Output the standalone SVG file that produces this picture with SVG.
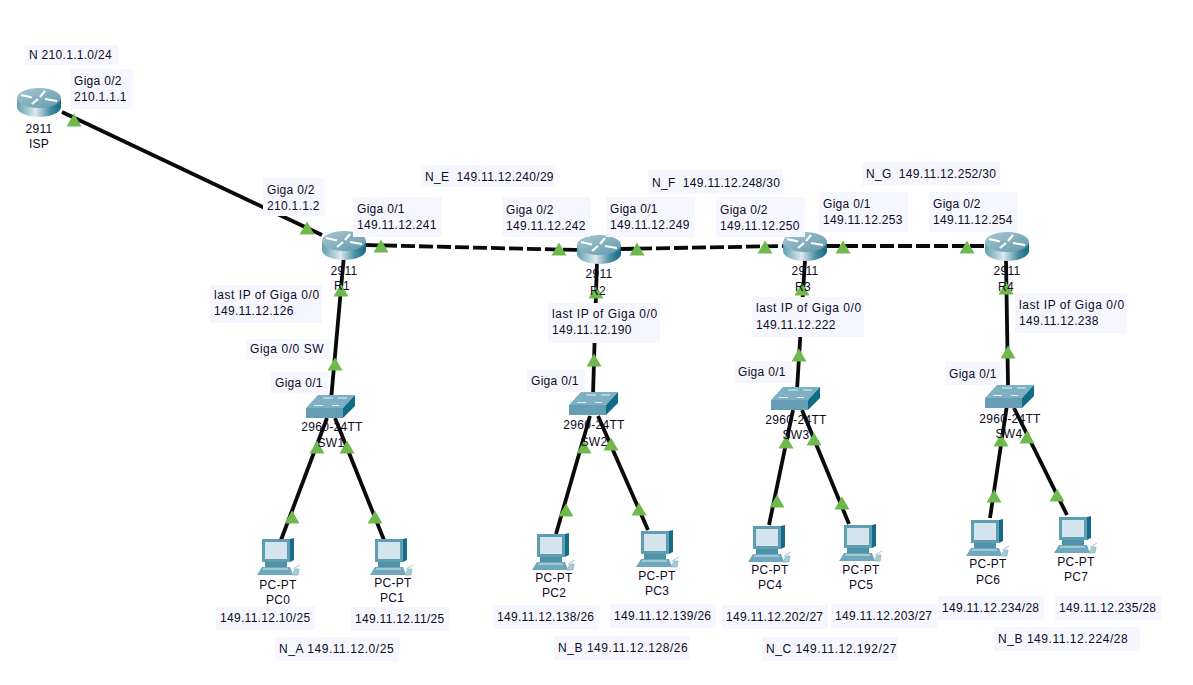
<svg xmlns="http://www.w3.org/2000/svg" xmlns:xlink="http://www.w3.org/1999/xlink" width="1193" height="685" viewBox="0 0 1193 685">
<style>
text{font-family:"Liberation Sans",Arial,sans-serif;font-size:12px;letter-spacing:.3px;fill:#0c0a1e;white-space:pre}
.w{letter-spacing:.55px}
.c{text-anchor:middle}
.b{fill:#f6f7fe}
.l{stroke:#0a0a0a;stroke-width:3.800;fill:none}
.d{stroke-dasharray:14 4}
.t{fill:#6fb84b}
</style>
<defs>
<linearGradient id="rb" x1="0" x2="1" y1="0" y2="0"><stop offset="0" stop-color="#5f9fb0"/><stop offset=".42" stop-color="#dbe9ee"/><stop offset=".75" stop-color="#4a8ea3"/><stop offset="1" stop-color="#136a82"/></linearGradient>
<linearGradient id="rt" x1="0" x2="1" y1="0" y2="1"><stop offset="0" stop-color="#a6c7d2"/><stop offset="1" stop-color="#6299ab"/></linearGradient>
<g id="router">
<path d="M0 10V19A22 10 0 0 0 44 19V10Z" fill="url(#rb)"/>
<ellipse cx="22" cy="10" rx="22" ry="10" fill="url(#rt)"/>
<path d="M4 7L15 9.500M15 16L21 11M28 3L23 9M28 11L40 13" stroke="#fff" stroke-width="2.200" fill="none"/>
</g>
<g id="switch">
<path d="M0 13L12 0H49L37 13Z" fill="#7db0c3"/>
<path d="M0 13H37V23H0Z" fill="#659eb4"/>
<path d="M37 13L49 0V11L37 23Z" fill="#0f6b86"/>
<path d="M8 10.500H17M26 10.500H33M17 3H27M32 3H41" stroke="#e6f1f5" stroke-width="1.200"/>
</g>
<g id="pc">
<path d="M5 1H33V24H5Z" fill="#5f9db2"/>
<path d="M33 1L37 0V22L33 24Z" fill="#146c88"/>
<path d="M8 4H30V21H8Z" fill="#d4e4ec"/>
<path d="M8 24H30V29H8Z" fill="#4f91a7"/>
<path d="M5 29H33L36 37H0Z" fill="#6fa8bc"/>
<path d="M6 31H31" stroke="#d4e4ec"/>
<path d="M36 31L43 27M35 37L38 31H42L41 37Z" fill="#a9c9d6" stroke="#8fb6c6" stroke-width=".8"/>
</g>
<path id="tri" d="M-7.500 6.500L0 -6.500L7.500 6.500Z"/>
</defs>
<rect width="1193" height="685" fill="#fff"/>

<g id="connectors">
<path class="l" d="M62 112L322 235"/>
<path class="l d" d="M365 245L578 250"/>
<path class="l d" d="M620 249L785 246"/>
<path class="l d" d="M826 246L985 246"/>
<path class="l" d="M344 255L331 400M597 260L593 395M805 260L797 390M1006 260L1008 385"/>
<path class="l" d="M327 418L281 540M335 418L384 540M590 416L556 534M598 416L648 530M793 410L769 525M802 410L849 524M1007 405L990 518M1014 408L1067 515"/>
</g>

<g id="links">
<use xlink:href="#tri" href="#tri" class="t" x="74" y="120"/>
<use xlink:href="#tri" href="#tri" class="t" x="307" y="228"/>
<use xlink:href="#tri" href="#tri" class="t" x="381" y="246"/>
<use xlink:href="#tri" href="#tri" class="t" x="341" y="290"/>
<use xlink:href="#tri" href="#tri" class="t" x="335" y="364"/>
<use xlink:href="#tri" href="#tri" class="t" x="317" y="447"/>
<use xlink:href="#tri" href="#tri" class="t" x="347" y="447"/>
<use xlink:href="#tri" href="#tri" class="t" x="292" y="517"/>
<use xlink:href="#tri" href="#tri" class="t" x="375" y="517"/>
<use xlink:href="#tri" href="#tri" class="t" x="559" y="249"/>
<use xlink:href="#tri" href="#tri" class="t" x="637" y="249"/>
<use xlink:href="#tri" href="#tri" class="t" x="596" y="292"/>
<use xlink:href="#tri" href="#tri" class="t" x="594" y="360"/>
<use xlink:href="#tri" href="#tri" class="t" x="584" y="447"/>
<use xlink:href="#tri" href="#tri" class="t" x="611" y="444"/>
<use xlink:href="#tri" href="#tri" class="t" x="566" y="510"/>
<use xlink:href="#tri" href="#tri" class="t" x="639" y="509"/>
<use xlink:href="#tri" href="#tri" class="t" x="765" y="247"/>
<use xlink:href="#tri" href="#tri" class="t" x="843" y="247"/>
<use xlink:href="#tri" href="#tri" class="t" x="802" y="289"/>
<use xlink:href="#tri" href="#tri" class="t" x="799" y="355"/>
<use xlink:href="#tri" href="#tri" class="t" x="786" y="442"/>
<use xlink:href="#tri" href="#tri" class="t" x="814" y="439"/>
<use xlink:href="#tri" href="#tri" class="t" x="777" y="501"/>
<use xlink:href="#tri" href="#tri" class="t" x="842" y="503"/>
<use xlink:href="#tri" href="#tri" class="t" x="967" y="247"/>
<use xlink:href="#tri" href="#tri" class="t" x="1006" y="288"/>
<use xlink:href="#tri" href="#tri" class="t" x="1008" y="352"/>
<use xlink:href="#tri" href="#tri" class="t" x="1001" y="440"/>
<use xlink:href="#tri" href="#tri" class="t" x="1027" y="437"/>
<use xlink:href="#tri" href="#tri" class="t" x="994" y="496"/>
<use xlink:href="#tri" href="#tri" class="t" x="1057" y="495"/>
</g>

<g id="ISP"><use xlink:href="#router" href="#router" x="17" y="88"/><text class="c" x="39" y="133">2911</text><text class="c" x="39" y="148">ISP</text></g>
<g id="R1"><use xlink:href="#router" href="#router" x="322" y="231"/><text class="c" x="344" y="275">2911</text><text class="c" x="342" y="290">R1</text></g>
<g id="R2"><use xlink:href="#router" href="#router" x="577" y="235"/><text class="c" x="599" y="278">2911</text><text class="c" x="598" y="295">R2</text></g>
<g id="R3"><use xlink:href="#router" href="#router" x="783" y="232"/><text class="c" x="805" y="275">2911</text><text class="c" x="803" y="291">R3</text></g>
<g id="R4"><use xlink:href="#router" href="#router" x="985" y="232"/><text class="c" x="1007" y="275">2911</text><text class="c" x="1006" y="291">R4</text></g>
<g id="SW1"><use xlink:href="#switch" href="#switch" x="306" y="395"/><text class="c" x="332" y="431">2960-24TT</text><text class="c" x="331" y="447">SW1</text></g>
<g id="SW2"><use xlink:href="#switch" href="#switch" x="569" y="392"/><text class="c" x="594" y="429">2960-24TT</text><text class="c" x="594" y="446">SW2</text></g>
<g id="SW3"><use xlink:href="#switch" href="#switch" x="771" y="387"/><text class="c" x="796" y="424">2960-24TT</text><text class="c" x="796" y="439">SW3</text></g>
<g id="SW4"><use xlink:href="#switch" href="#switch" x="985" y="385"/><text class="c" x="1010" y="423">2960-24TT</text><text class="c" x="1009" y="438">SW4</text></g>
<g id="PC0"><use xlink:href="#pc" href="#pc" x="257" y="538"/><text class="c" x="278" y="589">PC-PT</text><text class="c" x="278" y="604">PC0</text></g>
<g id="PC1"><use xlink:href="#pc" href="#pc" x="370" y="538"/><text class="c" x="393" y="587">PC-PT</text><text class="c" x="392" y="602">PC1</text></g>
<g id="PC2"><use xlink:href="#pc" href="#pc" x="532" y="533"/><text class="c" x="554" y="582">PC-PT</text><text class="c" x="554" y="597">PC2</text></g>
<g id="PC3"><use xlink:href="#pc" href="#pc" x="636" y="530"/><text class="c" x="657" y="580">PC-PT</text><text class="c" x="657" y="595">PC3</text></g>
<g id="PC4"><use xlink:href="#pc" href="#pc" x="748" y="525"/><text class="c" x="770" y="574">PC-PT</text><text class="c" x="770" y="589">PC4</text></g>
<g id="PC5"><use xlink:href="#pc" href="#pc" x="839" y="524"/><text class="c" x="861" y="574">PC-PT</text><text class="c" x="861" y="589">PC5</text></g>
<g id="PC6"><use xlink:href="#pc" href="#pc" x="966" y="519"/><text class="c" x="988" y="568">PC-PT</text><text class="c" x="988" y="584">PC6</text></g>
<g id="PC7"><use xlink:href="#pc" href="#pc" x="1054" y="516"/><text class="c" x="1076" y="566">PC-PT</text><text class="c" x="1076" y="581">PC7</text></g>

<g id="labels">
<rect class="b" x="25" y="45" width="93" height="20"/><text x="29" y="59">N 210.1.1.0/24</text>
<rect class="b" x="70" y="69" width="63" height="40"/><text x="74" y="85">Giga 0/2</text><text x="74" y="101">210.1.1.1</text>
<rect class="b" x="263" y="178" width="62" height="38"/><text x="267" y="194">Giga 0/2</text><text x="267" y="210">210.1.1.2</text>
<rect class="b" x="353" y="197" width="89" height="40"/><text x="357" y="213">Giga 0/1</text><text x="357" y="229">149.11.12.241</text>
<rect class="b" x="421" y="165" width="134" height="22"/><text x="425" y="181">N_E  149.11.12.240/29</text>
<rect class="b" x="502" y="197" width="88" height="40"/><text x="506" y="214">Giga 0/2</text><text x="506" y="230">149.11.12.242</text>
<rect class="b" x="606" y="197" width="89" height="40"/><text x="610" y="213">Giga 0/1</text><text x="610" y="229">149.11.12.249</text>
<rect class="b" x="648" y="170" width="135" height="24"/><text x="652" y="187">N_F  149.11.12.248/30</text>
<rect class="b" x="716" y="197" width="89" height="40"/><text x="720" y="214">Giga 0/2</text><text x="720" y="230">149.11.12.250</text>
<rect class="b" x="819" y="192" width="89" height="40"/><text x="823" y="208">Giga 0/1</text><text x="823" y="224">149.11.12.253</text>
<rect class="b" x="862" y="162" width="138" height="24"/><text x="866" y="178">N_G  149.11.12.252/30</text>
<rect class="b" x="929" y="192" width="89" height="40"/><text x="933" y="208">Giga 0/2</text><text x="933" y="224">149.11.12.254</text>
<rect class="b" x="210" y="285" width="112" height="38"/><text class="w" x="214" y="299">last IP of Giga 0/0</text><text x="214" y="315">149.11.12.126</text>
<rect class="b" x="548" y="303" width="112" height="40"/><text class="w" x="552" y="318">last IP of Giga 0/0</text><text x="552" y="334">149.11.12.190</text>
<rect class="b" x="752" y="297" width="112" height="40"/><text class="w" x="756" y="312">last IP of Giga 0/0</text><text x="756" y="329">149.11.12.222</text>
<rect class="b" x="1015" y="293" width="112" height="40"/><text class="w" x="1019" y="309">last IP of Giga 0/0</text><text x="1019" y="325">149.11.12.238</text>
<rect class="b" x="246" y="339" width="84" height="20"/><text class="w" x="250" y="353">Giga 0/0 SW</text>
<rect class="b" x="271" y="372" width="57" height="22"/><text x="275" y="387">Giga 0/1</text>
<rect class="b" x="527" y="370" width="58" height="22"/><text x="531" y="385">Giga 0/1</text>
<rect class="b" x="734" y="361" width="58" height="22"/><text x="738" y="376">Giga 0/1</text>
<rect class="b" x="945" y="362" width="57" height="23"/><text x="949" y="378">Giga 0/1</text>
<rect class="b" x="216" y="606" width="99" height="24"/><text x="220" y="622">149.11.12.10/25</text>
<rect class="b" x="351" y="607" width="99" height="24"/><text x="355" y="623">149.11.12.11/25</text>
<rect class="b" x="493" y="605" width="106" height="24"/><text x="497" y="621">149.11.12.138/26</text>
<rect class="b" x="610" y="604" width="106" height="24"/><text x="614" y="620">149.11.12.139/26</text>
<rect class="b" x="722" y="605" width="106" height="24"/><text x="726" y="621">149.11.12.202/27</text>
<rect class="b" x="831" y="604" width="106" height="24"/><text x="835" y="620">149.11.12.203/27</text>
<rect class="b" x="938" y="596" width="106" height="24"/><text x="942" y="612">149.11.12.234/28</text>
<rect class="b" x="1055" y="596" width="106" height="24"/><text x="1059" y="612">149.11.12.235/28</text>
<rect class="b" x="275" y="637" width="124" height="24"/><text class="w" x="279" y="653">N_A 149.11.12.0/25</text>
<rect class="b" x="554" y="636" width="136" height="24"/><text class="w" x="558" y="652">N_B 149.11.12.128/26</text>
<rect class="b" x="762" y="637" width="136" height="24"/><text class="w" x="766" y="653">N_C 149.11.12.192/27</text>
<rect class="b" x="994" y="627" width="146" height="24"/><text class="w" x="998" y="643">N_B 149.11.12.224/28</text>
</g>
</svg>
